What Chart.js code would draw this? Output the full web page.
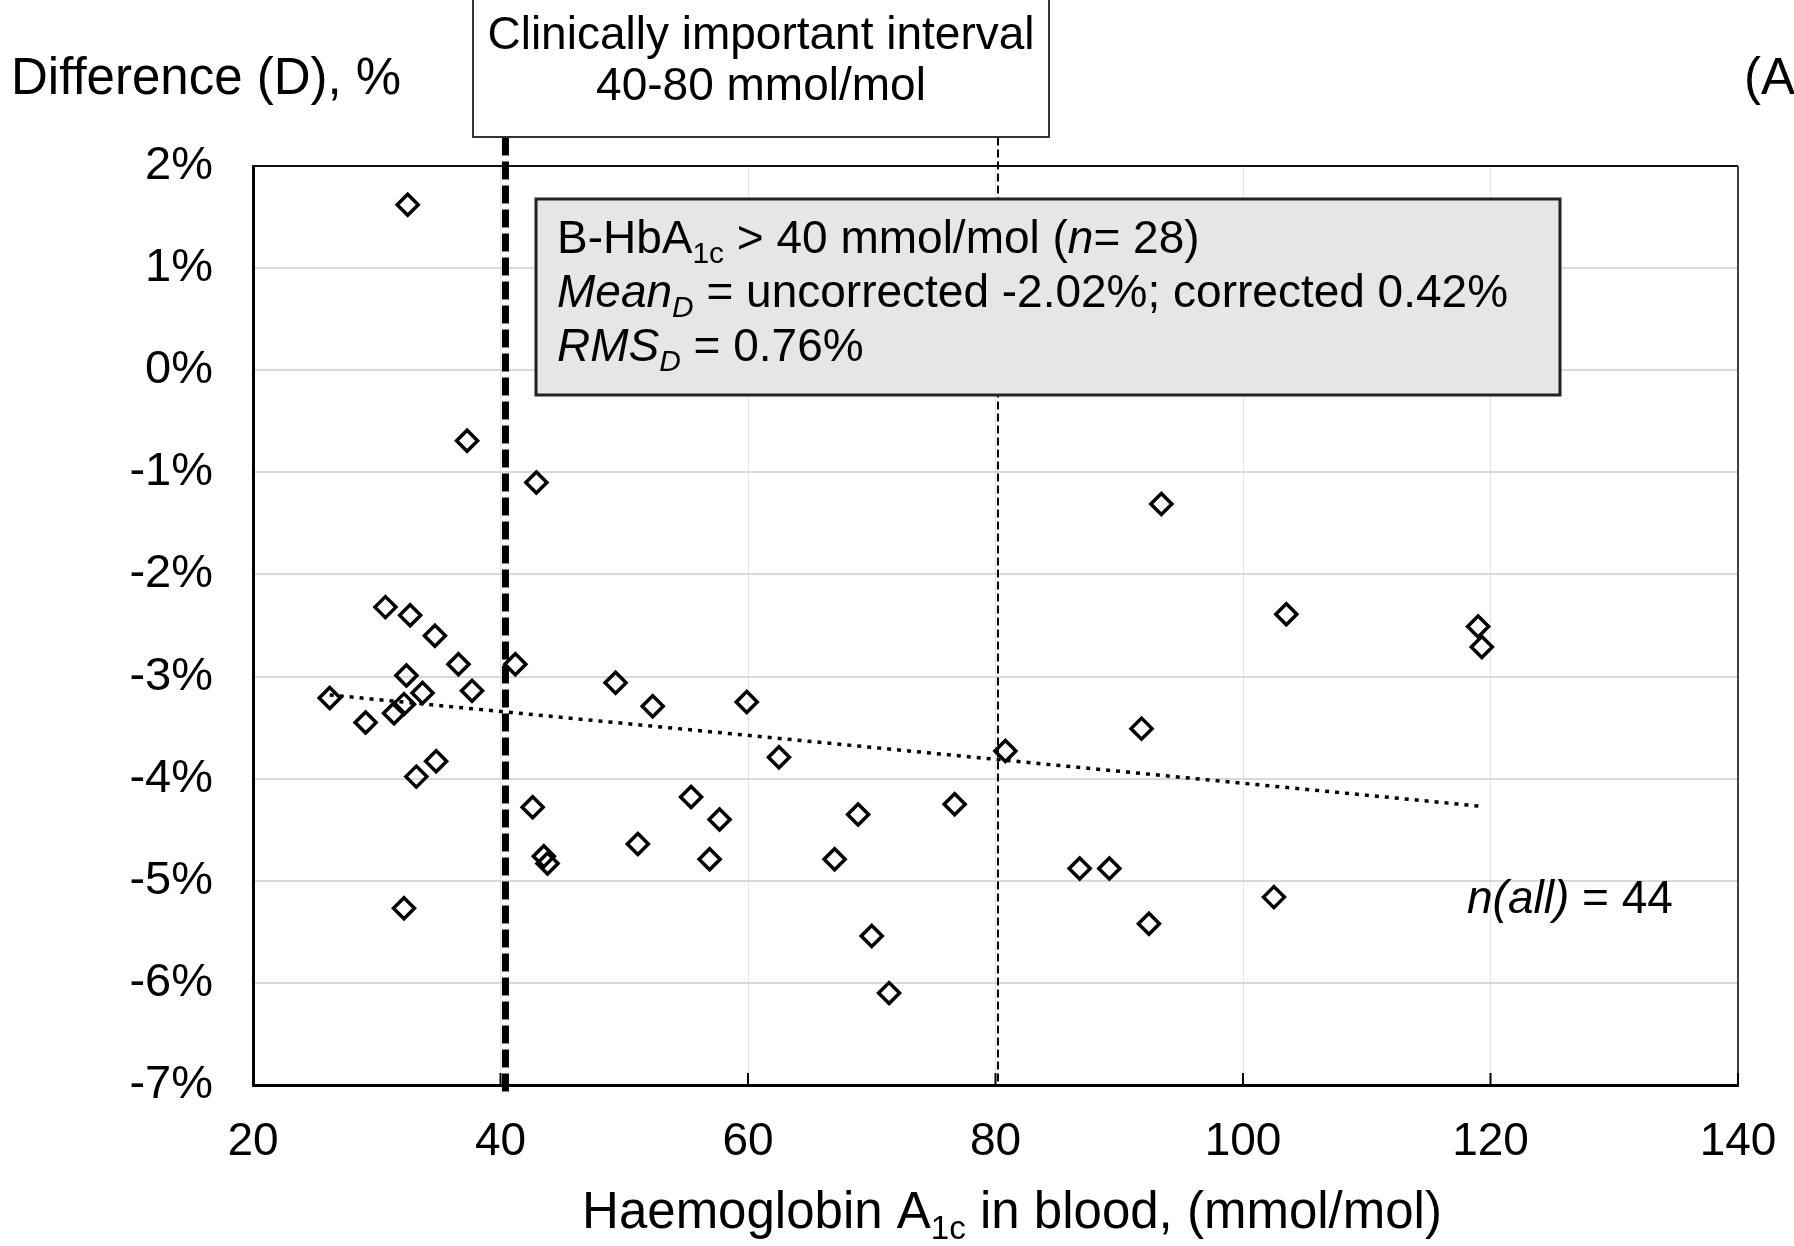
<!DOCTYPE html>
<html>
<head>
<meta charset="utf-8">
<script src="https://cdn.jsdelivr.net/npm/chart.js@4.4.1/dist/chart.umd.min.js"></script>
<style>
  html, body { margin: 0; padding: 0; background: #fff; }
</style>
</head>
<body>
<canvas id="chart" width="1794" height="1246"></canvas>
<script>
// HbA1c (mmol/mol) and relative difference (%) for each sample
const hba1c = [
  32.5, 37.3, 42.9, 93.4, 30.7, 32.7, 34.7, 36.6, 41.2, 103.5, 119.0,
  119.3, 26.2, 32.4, 33.7, 37.7, 29.1, 31.4, 32.2, 49.3, 52.3, 59.9,
  62.5, 91.8, 80.8, 33.2, 34.8, 42.6, 55.4, 57.7, 68.9, 76.7, 43.5,
  43.8, 51.1, 56.9, 67.0, 86.8, 89.2, 32.2, 92.4, 102.5, 70.0, 71.4
];
const diffPct = [
  1.62, -0.69, -1.10, -1.31, -2.32, -2.40, -2.60, -2.88, -2.88, -2.39, -2.51,
  -2.71, -3.21, -2.99, -3.16, -3.14, -3.45, -3.36, -3.27, -3.06, -3.29, -3.25,
  -3.79, -3.51, -3.73, -3.98, -3.83, -4.28, -4.18, -4.40, -4.35, -4.25, -4.76,
  -4.83, -4.64, -4.79, -4.79, -4.88, -4.88, -5.27, -5.42, -5.16, -5.54, -6.10
];

// linear trend over all samples
const trendX = [26.2, 119.2];
const trendY = [-3.18, -4.27];

// clinically important interval bounds
const limitLow = [40.4, 40.4];
const limitLowY = [2.28, -7.1];
const limitHigh = [80.2, 80.2];
const limitHighY = [2.28, -7];

const xTickValues = [20, 40, 60, 80, 100, 120, 140];
const yTickValues = [2, 1, 0, -1, -2, -3, -4, -5, -6, -7];

const FONT = "'Liberation Sans', Arial, sans-serif";

function toPoints(xs, ys) {
  return xs.map((x, i) => ({ x: x, y: ys[i] }));
}

// draw a line of text made of pieces: [text, italic, subscript]
function richText(ctx, parts, x, y, size, align) {
  const pieces = parts.map(([t, it, sub]) => {
    const s = sub ? size * 0.65 : size;
    const f = (it ? 'italic ' : '') + s + 'px ' + FONT;
    ctx.font = f;
    return { t: t, f: f, w: ctx.measureText(t).width, dy: sub ? size * 0.22 : 0 };
  });
  const total = pieces.reduce((a, p) => a + p.w, 0);
  let cx = align === 'center' ? x - total / 2 : x;
  ctx.textAlign = 'left';
  ctx.textBaseline = 'alphabetic';
  ctx.fillStyle = '#000';
  for (const p of pieces) {
    ctx.font = p.f;
    ctx.fillText(p.t, cx, y + p.dy);
    cx += p.w;
  }
}

const frame = {
  id: 'frame',
  beforeDatasetsDraw(chart) {
    const ctx = chart.ctx;
    const a = chart.chartArea;
    const xs = chart.scales.x;
    ctx.save();
    // top and right edges of the plot
    ctx.strokeStyle = '#111';
    ctx.lineWidth = 2;
    ctx.beginPath();
    ctx.moveTo(a.left, a.top);
    ctx.lineTo(a.right, a.top);
    ctx.stroke();
    ctx.strokeStyle = '#404040';
    ctx.beginPath();
    ctx.moveTo(a.right, a.top);
    ctx.lineTo(a.right, a.bottom);
    ctx.stroke();
    // inward tick marks on the x axis
    ctx.strokeStyle = '#000';
    ctx.lineWidth = 2;
    xTickValues.forEach(v => {
      const px = xs.getPixelForValue(v);
      ctx.beginPath();
      ctx.moveTo(px, a.bottom);
      ctx.lineTo(px, a.bottom - 12);
      ctx.stroke();
    });
    ctx.restore();
  },
  afterDraw(chart) {
    const ctx = chart.ctx;
    ctx.save();

    // statistics box
    ctx.fillStyle = '#e7e6e6';
    ctx.fillRect(536, 199, 1024, 196);
    ctx.strokeStyle = '#222';
    ctx.lineWidth = 3;
    ctx.strokeRect(536, 199, 1024, 196);
    richText(ctx, [['B-HbA'], ['1c', false, true], [' > 40 mmol/mol ('], ['n', true], ['= 28)']], 557, 253, 46);
    richText(ctx, [['Mean', true], ['D', true, true], [' = uncorrected -2.02%; corrected 0.42%']], 557, 307, 46);
    richText(ctx, [['RMS', true], ['D', true, true], [' = 0.76%']], 557, 361, 46);

    // interval caption
    ctx.fillStyle = '#fff';
    ctx.fillRect(473, -5, 576, 142);
    ctx.strokeStyle = '#333';
    ctx.lineWidth = 2;
    ctx.strokeRect(473, -5, 576, 142);
    richText(ctx, [['Clinically important interval']], 761, 49, 46, 'center');
    richText(ctx, [['40-80 mmol/mol']], 761, 100, 46, 'center');

    // axis titles and panel letter
    richText(ctx, [['Difference (D), %']], 11, 94, 51);
    richText(ctx, [['(A)']], 1744, 94, 51);
    richText(ctx, [['Haemoglobin A'], ['1c', false, true], [' in blood, (mmol/mol)']], 1012, 1228, 51, 'center');

    richText(ctx, [['n(all)', true], [' = 44']], 1467, 913, 46);
    ctx.restore();
  }
};

new Chart(document.getElementById('chart'), {
  type: 'scatter',
  data: {
    datasets: [
      {
        label: 'samples',
        data: toPoints(hba1c, diffPct),
        pointStyle: 'rectRot',
        pointRadius: 10.5,
        pointBorderWidth: 3.5,
        borderColor: '#000',
        backgroundColor: 'rgba(0,0,0,0)'
      },
      {
        label: 'trend',
        type: 'line',
        data: toPoints(trendX, trendY),
        borderColor: '#000',
        borderWidth: 3.5,
        borderDash: [4, 6],
        pointRadius: 0,
        fill: false
      },
      {
        label: 'low',
        type: 'line',
        data: toPoints(limitLow, limitLowY),
        borderColor: '#000',
        borderWidth: 7,
        borderDash: [18, 6],
        pointRadius: 0,
        fill: false,
        clip: false
      },
      {
        label: 'high',
        type: 'line',
        data: toPoints(limitHigh, limitHighY),
        borderColor: '#000',
        borderWidth: 2,
        borderDash: [8, 4],
        pointRadius: 0,
        fill: false,
        clip: false
      }
    ]
  },
  options: {
    responsive: false,
    animation: false,
    layout: { padding: { top: 166, right: 56, left: 0, bottom: 0 } },
    plugins: {
      legend: { display: false },
      tooltip: { enabled: false }
    },
    scales: {
      x: {
        type: 'linear',
        min: 20,
        max: 140,
        afterBuildTicks: s => { s.ticks = xTickValues.map(v => ({ value: v })); },
        afterFit: s => {
          s.height = 161;
          s.paddingLeft = 0;
          s.paddingRight = 0;
        },
        ticks: {
          padding: 30,
          color: '#000',
          font: { family: FONT, size: 46 },
          maxRotation: 0
        },
        grid: { color: '#e3e3e3', lineWidth: 1, drawTicks: false },
        border: { color: '#000', width: 3 }
      },
      y: {
        type: 'linear',
        min: -7,
        max: 2,
        afterBuildTicks: s => { s.ticks = yTickValues.map(v => ({ value: v })); },
        afterFit: s => { s.width = 253; },
        ticks: {
          padding: 40,
          color: '#000',
          font: { family: FONT, size: 47 },
          callback: v => v + '%'
        },
        grid: { color: '#d9d9d9', lineWidth: 2, drawTicks: false },
        border: { color: '#000', width: 3 }
      }
    }
  },
  plugins: [frame]
});
</script>
</body>
</html>
